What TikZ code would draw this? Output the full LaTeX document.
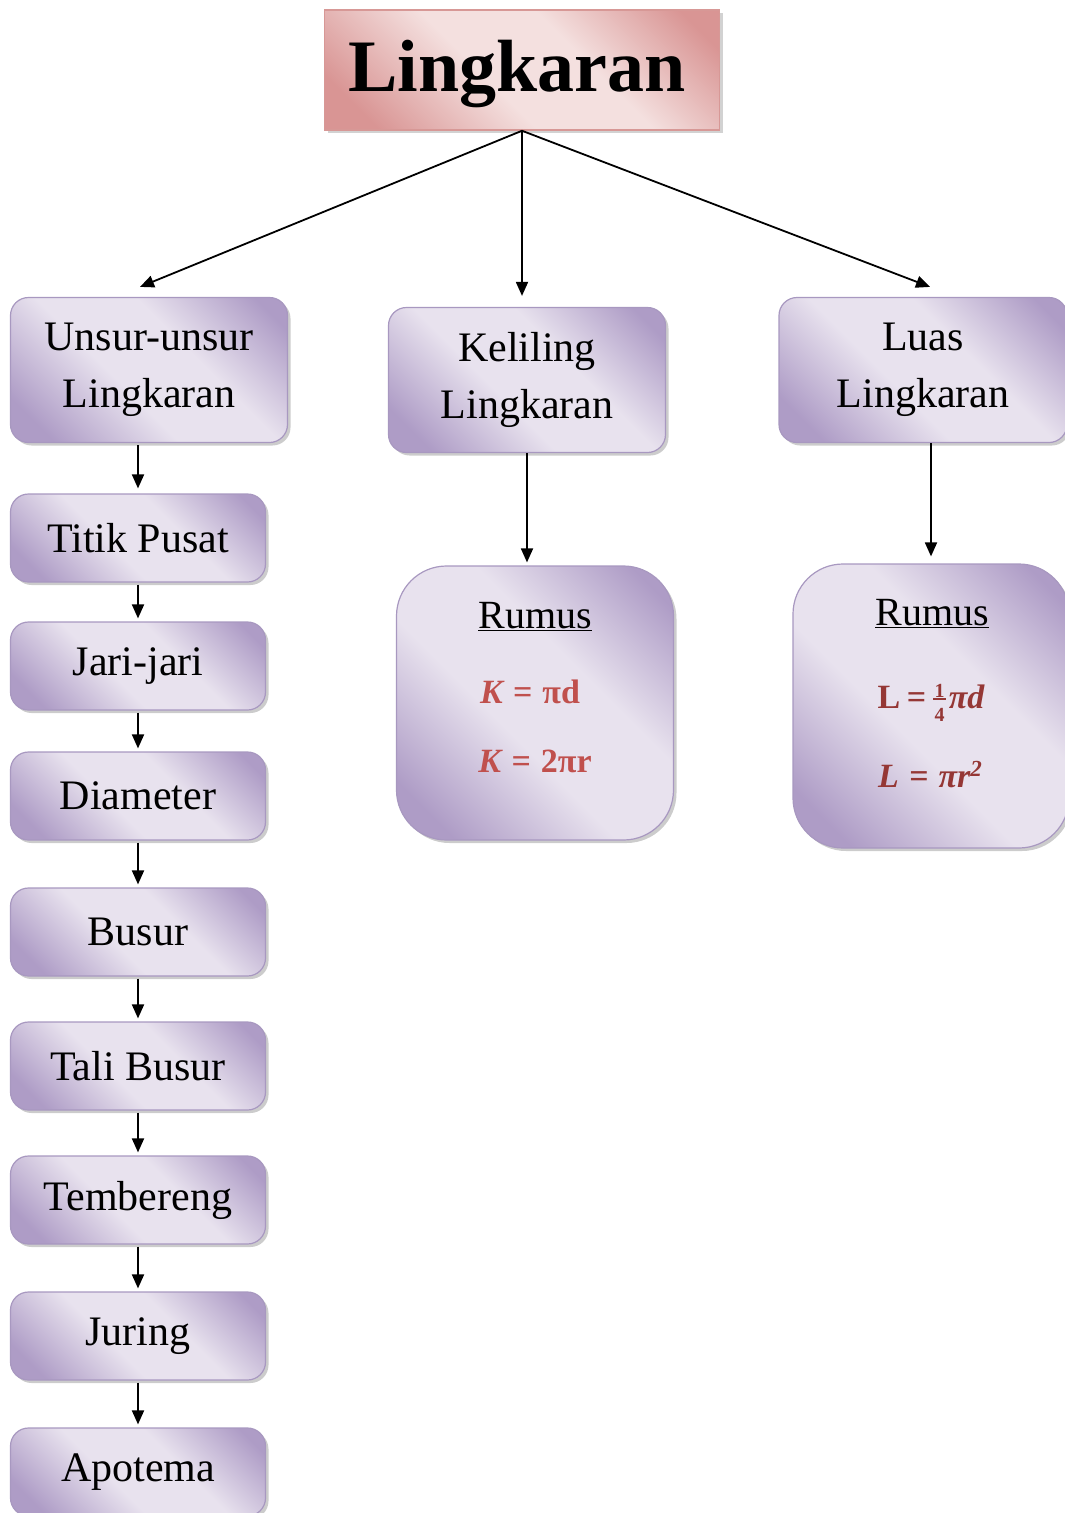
\documentclass[tikz,border=0pt]{standalone}
\usepackage{fontspec}
\setmainfont{Liberation Serif}
\usetikzlibrary{arrows.meta, positioning, shadows}

\definecolor{lavlight}{HTML}{E8E2EE}
\definecolor{lavdark}{HTML}{AE9CC6}
\definecolor{lavline}{HTML}{A898C0}
\definecolor{pinklight}{HTML}{F4E0DF}
\definecolor{pinkdark}{HTML}{D99594}
\definecolor{pinkline}{HTML}{D79896}
\definecolor{kcol}{HTML}{C0504D}
\definecolor{lcol}{HTML}{953735}

\pgfdeclarehorizontalshading{lavshade}{100bp}{color(0bp)=(lavdark); color(22bp)=(lavdark); color(43bp)=(lavlight); color(60bp)=(lavlight); color(80bp)=(lavdark); color(100bp)=(lavdark)}
\pgfdeclarehorizontalshading{pinkshade}{100bp}{color(0bp)=(pinkdark); color(22bp)=(pinkdark); color(44bp)=(pinklight); color(60bp)=(pinklight); color(80bp)=(pinkdark); color(100bp)=(pinkdark)}

% stacked fraction for the area formula
\newcommand{\quarter}{\mbox{\rlap{\raisebox{11pt}{\makebox[13pt]{\fontsize{20}{20}\selectfont 1}}}\rlap{\raisebox{8pt}{\rule{13pt}{2pt}}}\raisebox{-13pt}{\makebox[13pt]{\fontsize{20}{20}\selectfont 4}}}}

\begin{document}
\begin{tikzpicture}[
    x=1pt, y=-1pt,
    >={Triangle[length=14pt, width=12pt]},
    link/.style={->, line width=1.8pt},
    titlebox/.style={rectangle, draw=pinkline, line width=1.5pt, shading=pinkshade, shading angle=45, minimum width=395pt, minimum height=120pt, font=\fontsize{74}{80}\selectfont\bfseries, drop shadow={shadow xshift=3pt, shadow yshift=-3pt, fill=black!35}},
    box/.style={rectangle, rounded corners=18pt, draw=lavline, line width=1.2pt, shading=lavshade, shading angle=45, minimum width=255pt, minimum height=88pt, align=center, font=\fontsize{42}{57}\selectfont, drop shadow={shadow xshift=3pt, shadow yshift=-3pt, fill=black!40}},
    bigbox/.style={box, minimum width=277pt, minimum height=145pt},
    rumusbox/.style={box, rounded corners=50pt, minimum width=277pt, minimum height=274pt},
    rumushead/.style={anchor=base, font=\fontsize{40}{44}\selectfont},
    fml/.style={anchor=base, font=\fontsize{34}{40}\selectfont\bfseries}
]
\useasboundingbox (0,0) rectangle (1065,1513);

% Nodes
\node[titlebox] (title) at (522,70) {\hspace*{-10pt}\raisebox{-4pt}[\height][\depth]{Lingkaran}};
\node[bigbox] (unsur) at (149,370) {Unsur-unsur\\Lingkaran};
\node[bigbox] (keliling) at (527,380) {Keliling\\Lingkaran};
\node[bigbox, minimum width=288pt] (luas) at (923,370) {Luas\\Lingkaran};

\node[rumusbox] (rumusK) at (535,703) {};
\node[rumushead] (rumusKhead) at (535,628) {\underline{Rumus}};
\node[fml, text=kcol] (rumusKa) at (530,703) {\itshape K\hspace{.3em}=\hspace{.3em}\upshape πd};
\node[fml, text=kcol] (rumusKb) at (535,772) {\itshape K\hspace{.3em}=\hspace{.3em}\upshape 2πr};

\node[rumusbox, minimum width=276pt, minimum height=284pt] (rumusL) at (931,706) {};
\node[rumushead] (rumusLhead) at (932,625) {\underline{Rumus}};
\node[fml, text=lcol] (rumusLa) at (931,708) {L\hspace{.2em}=\hspace{.2em}\quarter\hspace{.08em}\itshape πd};
\node[fml, text=lcol] (rumusLb) at (930,787) {\itshape L\hspace{.3em}=\hspace{.3em}πr\raisebox{11pt}{\fontsize{23}{23}\selectfont 2}};

\node[box] (titik) at (138,538) {Titik Pusat};
\node[box] (jari) at (138,666) {Jari-jari};
\node[box] (diameter) at (138,796) {Diameter};
\node[box] (busur) at (138,932) {Busur};
\node[box] (tali) at (138,1066) {Tali Busur};
\node[box] (tembereng) at (138,1200) {Tembereng};
\node[box] (juring) at (138,1336) {Juring};
\node[box] (apotema) at (138,1472) {Apotema};

% Links
\draw[link] (title.south) -- ([shift={(-9pt,10pt)}]unsur.north);
\draw[link, shorten >=11pt] (title.south) -- (title.south |- keliling.north);
\draw[link] (title.south) -- ([shift={(7pt,10pt)}]luas.north);
\draw[link, shorten <=2pt, shorten >=5pt] (titik.north |- unsur.south) -- (titik.north);
\foreach \a/\b in {titik/jari, jari/diameter, diameter/busur, busur/tali, tali/tembereng, tembereng/juring, juring/apotema}
  \draw[link, shorten <=2pt, shorten >=3pt] (\a.south) -- (\b.north);
\draw[link, shorten >=3pt] (keliling.south) -- (keliling.south |- rumusK.north);
\draw[link, shorten >=7pt] (rumusL.north |- luas.south) -- (rumusL.north);

\end{tikzpicture}
\end{document}
